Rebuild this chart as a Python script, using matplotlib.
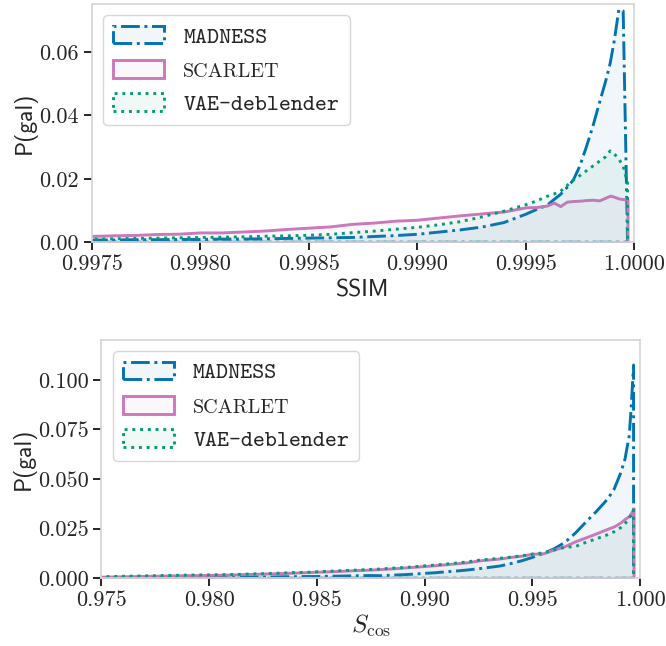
import matplotlib
matplotlib.use("Agg")
import matplotlib.pyplot as plt
from matplotlib.colors import to_rgba
from matplotlib.patches import Patch

# ---------------- data (bin centres and per-bin probabilities) ----------------
ssim_x = [0.99740, 0.99750, 0.99760, 0.99770, 0.99780, 0.99790, 0.99800, 0.99810,
          0.99820, 0.99830, 0.99840, 0.99850, 0.99860, 0.99870, 0.99880, 0.99890,
          0.99900, 0.99910, 0.99920, 0.99930, 0.99940, 0.99950, 0.99955, 0.99960,
          0.99963, 0.99966, 0.99969, 0.99972, 0.99975, 0.99978, 0.99981, 0.99984,
          0.99987, 0.99989, 0.99991, 0.99993, 0.99995, 0.99997]
ssim_madness = [0.0007, 0.0007, 0.0007, 0.0008, 0.0008, 0.0009, 0.0009, 0.0010,
                0.0010, 0.0011, 0.0012, 0.0013, 0.0014, 0.0015, 0.0018, 0.0021,
                0.0025, 0.0032, 0.0039, 0.0048, 0.0062, 0.0088, 0.0103, 0.0117,
                0.0134, 0.0150, 0.0172, 0.0196, 0.0240, 0.0300, 0.0365, 0.0438,
                0.0510, 0.0564, 0.0640, 0.0734, 0.0729, 0.0005]
ssim_scarlet = [0.0019, 0.0020, 0.0022, 0.0023, 0.0026, 0.0027, 0.0031, 0.0031,
                0.0034, 0.0037, 0.0042, 0.0046, 0.0050, 0.0058, 0.0062, 0.0068,
                0.0071, 0.0078, 0.0085, 0.0091, 0.0097, 0.0110, 0.0111, 0.0116,
                0.0125, 0.0114, 0.0128, 0.0130, 0.0131, 0.0133, 0.0134, 0.0132,
                0.0141, 0.0147, 0.0143, 0.0138, 0.0136, 0.0135]
ssim_vae = [0.0010, 0.0010, 0.0011, 0.0012, 0.0013, 0.0014, 0.0015, 0.0016,
            0.0017, 0.0019, 0.0020, 0.0022, 0.0025, 0.0030, 0.0035, 0.0041,
            0.0047, 0.0055, 0.0065, 0.0080, 0.0098, 0.0118, 0.0130, 0.0145,
            0.0152, 0.0160, 0.0178, 0.0196, 0.0210, 0.0225, 0.0240, 0.0255,
            0.0270, 0.0288, 0.0278, 0.0262, 0.0240, 0.0186]

cos_x = [0.9745, 0.9750, 0.9755, 0.9760, 0.9765, 0.9770, 0.9775, 0.9780, 0.9785,
         0.9790, 0.9795, 0.9800, 0.9805, 0.9810, 0.9815, 0.9820, 0.9825, 0.9830,
         0.9835, 0.9840, 0.9845, 0.9850, 0.9855, 0.9860, 0.9865, 0.9870, 0.9875,
         0.9880, 0.9885, 0.9890, 0.9895, 0.9900, 0.9905, 0.9910, 0.9915, 0.9920,
         0.9925, 0.9930, 0.9935, 0.9940, 0.9945, 0.9950, 0.9955, 0.9960, 0.9965,
         0.9970, 0.9975, 0.9980, 0.9985, 0.9988, 0.9991, 0.9993, 0.9995, 0.9996,
         0.9997]
cos_madness = [0.0003, 0.0003, 0.0003, 0.0003, 0.0004, 0.0004, 0.0004, 0.0004, 0.0005,
               0.0005, 0.0005, 0.0005, 0.0006, 0.0006, 0.0006, 0.0007, 0.0007, 0.0007,
               0.0008, 0.0008, 0.0009, 0.0009, 0.0010, 0.0011, 0.0012, 0.0013, 0.0014,
               0.0013, 0.0016, 0.0018, 0.0021, 0.0025, 0.0028, 0.0033, 0.0037, 0.0042,
               0.0048, 0.0055, 0.0062, 0.0074, 0.0088, 0.0105, 0.0125, 0.0148, 0.0180,
               0.0228, 0.0285, 0.0340, 0.0400, 0.0450, 0.0530, 0.0600, 0.0720, 0.0880,
               0.1075]
cos_scarlet = [0.0008, 0.0008, 0.0009, 0.0010, 0.0011, 0.0012, 0.0013, 0.0014, 0.0015,
               0.0016, 0.0016, 0.0017, 0.0018, 0.0019, 0.0021, 0.0022, 0.0024, 0.0025,
               0.0027, 0.0029, 0.0031, 0.0033, 0.0035, 0.0037, 0.0040, 0.0042, 0.0044,
               0.0047, 0.0050, 0.0054, 0.0058, 0.0062, 0.0066, 0.0071, 0.0076, 0.0081,
               0.0090, 0.0095, 0.0100, 0.0108, 0.0114, 0.0124, 0.0126, 0.0145, 0.0162,
               0.0187, 0.0207, 0.0228, 0.0250, 0.0262, 0.0282, 0.0300, 0.0315, 0.0333,
               0.0353]
cos_vae = [0.0008, 0.0008, 0.0009, 0.0010, 0.0011, 0.0012, 0.0013, 0.0014, 0.0015,
           0.0016, 0.0017, 0.0017, 0.0018, 0.0019, 0.0020, 0.0022, 0.0023, 0.0025,
           0.0027, 0.0029, 0.0030, 0.0033, 0.0035, 0.0038, 0.0040, 0.0042, 0.0045,
           0.0047, 0.0051, 0.0054, 0.0058, 0.0063, 0.0067, 0.0072, 0.0077, 0.0083,
           0.0091, 0.0096, 0.0101, 0.0107, 0.0113, 0.0122, 0.0128, 0.0142, 0.0156,
           0.0160, 0.0182, 0.0200, 0.0220, 0.0235, 0.0255, 0.0275, 0.0300, 0.0325,
           0.0344]

labels = ["MADNESS", "SCARLET", "VAE-deblender"]
ssim_ticks = [0.9975, 0.9980, 0.9985, 0.9990, 0.9995, 1.0000]
ssim_yticks = [0.00, 0.02, 0.04, 0.06]
cos_ticks = [0.975, 0.980, 0.985, 0.990, 0.995, 1.000]
cos_yticks = [0.000, 0.025, 0.050, 0.075, 0.100]

# ---------------- style ----------------
plt.rcParams["mathtext.fontset"] = "cm"
plt.rcParams["axes.formatter.use_mathtext"] = True
colors = ["#0173b2", "#cc78bc", "#029e73"]
styles = ["-.", "-", ":"]
fill_alpha = 0.06
spine_col = "#d4d4d4"
tick_col = "#262626"

fig = plt.figure(figsize=(6.66, 6.46), dpi=100)
ax1 = fig.add_axes([0.1377, 0.625, 0.8143, 0.3688])
ax2 = fig.add_axes([0.1524, 0.1048, 0.8086, 0.3689])


def draw(ax, x, series, xticks, xfmt, yticks, yfmt, xlim, ylim):
    for y, c, ls in zip(series, colors, styles):
        ax.fill_between(x, 0, y, facecolor=to_rgba(c, fill_alpha),
                        edgecolor=c, linestyle=ls, linewidth=2.1)
    ax.set_xlim(*xlim)
    ax.set_ylim(*ylim)
    ax.set_xticks(xticks)
    ax.set_xticklabels([xfmt.format(t) for t in xticks])
    ax.set_yticks(yticks)
    ax.set_yticklabels([yfmt.format(t) for t in yticks])
    for lab in ax.get_xticklabels() + ax.get_yticklabels():
        lab.set_fontfamily("cmr10")
        lab.set_fontsize(16)
        lab.set_color(tick_col)
    for s in ax.spines.values():
        s.set_color(spine_col)
        s.set_linewidth(1.2)
    ax.tick_params(direction="out", length=6, width=1.4, color=tick_col, pad=3)
    ax.set_ylabel("P(gal)", family="cmss10", fontsize=17, color=tick_col, labelpad=2)

    handles = [Patch(facecolor=to_rgba(c, fill_alpha), edgecolor=c,
                     linestyle=ls, linewidth=2.1) for c, ls in zip(colors, styles)]
    leg = ax.legend(handles, labels, loc="upper left", fontsize=16.5,
                    handlelength=2.2, handleheight=0.8, labelspacing=0.55,
                    borderpad=0.45, handletextpad=0.85, borderaxespad=0.5,
                    frameon=True, fancybox=True, framealpha=1.0)
    leg.get_frame().set_edgecolor("#d8d8d8")
    leg.get_frame().set_linewidth(1.0)
    texts = leg.get_texts()
    texts[0].set_fontfamily("cmtt10")
    texts[1].set_fontfamily("cmr10")
    texts[1].set_fontsize(14.5)
    texts[2].set_fontfamily("cmtt10")
    for t in texts:
        t.set_color(tick_col)
    return leg


draw(ax1, ssim_x, [ssim_madness, ssim_scarlet, ssim_vae], ssim_ticks, "{:.4f}",
     ssim_yticks, "{:.2f}", (0.9975, 1.0), (0, 0.0751))
ax1.set_xlabel("SSIM", family="cmss10", fontsize=17, color=tick_col, labelpad=4)

draw(ax2, cos_x, [cos_madness, cos_scarlet, cos_vae], cos_ticks, "{:.3f}",
     cos_yticks, "{:.3f}", (0.975, 1.0), (0, 0.1201))
ax2.set_xlabel(r"$S_{\rm cos}$", fontsize=18, color=tick_col, labelpad=2)

fig.savefig("out.png", dpi=100)
